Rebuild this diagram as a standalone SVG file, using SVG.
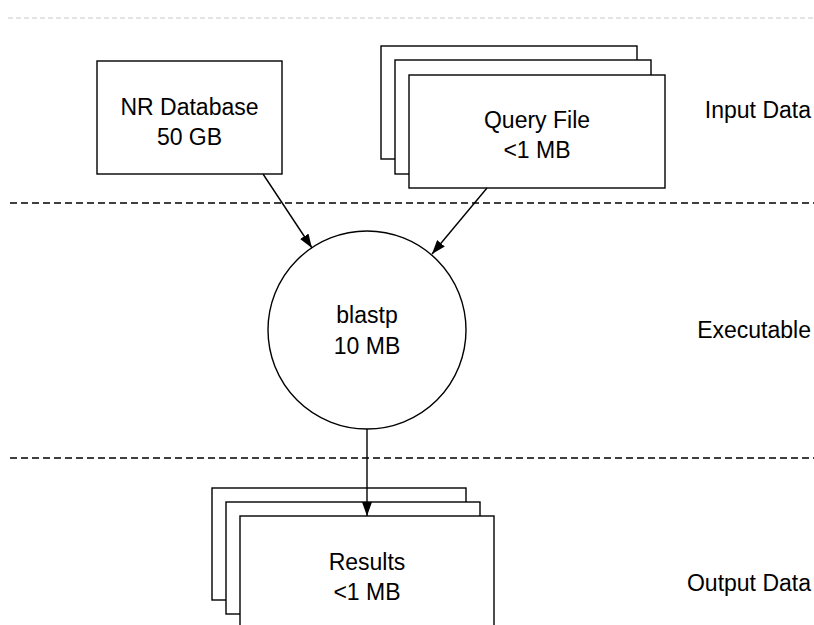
<svg xmlns="http://www.w3.org/2000/svg" width="814" height="625" viewBox="0 0 814 625">
<style>
.box{fill:#fff;stroke:#000;stroke-width:1.4}
.t{font-family:"Liberation Sans",Arial,Helvetica,sans-serif;font-size:23px;fill:#000;text-anchor:middle}
.lbl{font-family:"Liberation Sans",Arial,Helvetica,sans-serif;font-size:23px;fill:#000;text-anchor:end}
.conn{stroke:#000;stroke-width:1.4;fill:none}
.sep{stroke:#000;stroke-width:1.4;stroke-dasharray:7 4}
</style>
<defs>
<marker id="arr" viewBox="0 0 14 10" refX="14" refY="5" markerWidth="14" markerHeight="10" markerUnits="userSpaceOnUse" orient="auto">
<path d="M0,0 L14,5 L0,10 z" fill="#000"/>
</marker>
</defs>
<rect width="814" height="625" fill="#fff"/>
<g id="separators">
<line x1="8" y1="18" x2="814" y2="18" stroke="#c8c8c8" stroke-width="1" stroke-dasharray="5 3"/>
<line class="sep" x1="10" y1="203" x2="814" y2="203"/>
<line class="sep" x1="10" y1="458" x2="814" y2="458"/>
</g>
<g id="nr-database">
<rect class="box" x="97" y="61" width="185" height="113"/>
<text class="t" x="189.5" y="115">NR Database</text>
<text class="t" x="189.5" y="145">50 GB</text>
</g>
<g id="query-file">
<rect class="box" x="381" y="46" width="256" height="113"/>
<rect class="box" x="395" y="60" width="256" height="114"/>
<rect class="box" x="409" y="75" width="256" height="113"/>
<text class="t" x="537" y="128">Query File</text>
<text class="t" x="537" y="158">&lt;1 MB</text>
</g>
<g id="blastp">
<circle class="box" cx="367" cy="330" r="99"/>
<text class="t" x="367" y="323">blastp</text>
<text class="t" x="367" y="354">10 MB</text>
</g>
<g id="results">
<rect class="box" x="212" y="488" width="254" height="112"/>
<rect class="box" x="226" y="502" width="254" height="112"/>
<rect class="box" x="240" y="516" width="254" height="120"/>
<text class="t" x="367" y="570">Results</text>
<text class="t" x="367" y="600">&lt;1 MB</text>
</g>
<g id="labels">
<text class="lbl" x="811" y="118">Input Data</text>
<text class="lbl" x="811" y="338">Executable</text>
<text class="lbl" x="811" y="591">Output Data</text>
</g>
<g id="connectors">
<line class="conn" x1="263" y1="174" x2="312" y2="248" marker-end="url(#arr)"/>
<line class="conn" x1="487" y1="188" x2="432" y2="254" marker-end="url(#arr)"/>
<line class="conn" x1="367" y1="429" x2="367" y2="516" marker-end="url(#arr)"/>
</g>
</svg>
